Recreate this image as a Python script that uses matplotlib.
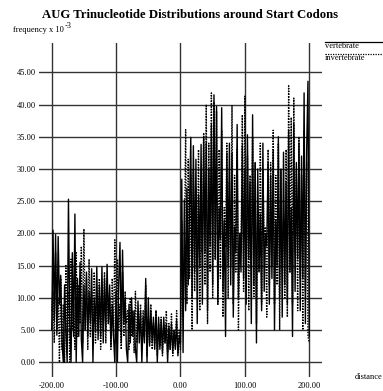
import numpy as np
import matplotlib.pyplot as plt

plt.switch_backend('agg')
plt.rcParams['font.family'] = ['Liberation Serif', 'DejaVu Serif']

# distance from start codon, step 2
distance = np.arange(-200, 201, 2)

vertebrate = [
    5.0, 20.5, 6.5, 19.8, 4.2, 19.5, 9.0, 13.5, 3.0, 0.0,
    12.0, 4.5, 0.0, 25.3, 6.0, 0.0, 17.0, 4.0, 23.0, 0.0,
    13.0, 4.0, 15.5, 3.5, 0.0, 12.0, 5.0, 14.0, 4.0, 11.0,
    6.0, 14.5, 0.0, 10.0, 5.0, 14.8, 3.5, 12.0, 4.0, 14.8,
    3.0, 13.0, 5.0, 15.2, 6.0, 12.0, 2.5, 9.0, 4.0, 0.0,
    11.0, 0.0, 12.0, 18.6, 3.0, 17.4, 6.0, 10.0, 2.0, 0.0,
    9.0, 3.0, 10.0, 4.0, 8.0, 2.0, 0.0, 9.5, 3.0, 8.0,
    0.0, 7.0, 3.0, 13.0, 0.0, 10.0, 2.5, 8.0, 3.0, 7.0,
    2.0, 8.0, 0.0, 7.0, 2.0, 6.5, 1.5, 7.0, 3.0, 6.0,
    0.0, 5.5, 2.0, 6.0, 1.5, 5.0, 2.0, 6.5, 1.0, 4.0,
    3.0, 28.4, 1.5, 25.2, 8.0, 27.0, 12.0, 24.0, 34.9, 10.0,
    33.6, 14.0, 31.5, 6.0, 26.0, 15.0, 33.8, 9.0, 35.0, 17.0,
    34.0, 8.0, 30.0, 18.0, 36.9, 12.0, 41.5, 16.0, 39.7, 9.0,
    24.0, 19.0, 39.5, 11.0, 22.0, 4.0, 32.5, 15.0, 34.0, 12.0,
    32.5, 7.0, 21.0, 17.0, 36.9, 10.0, 20.0, 14.0, 33.6, 13.0,
    30.0, 9.0, 35.3, 16.0, 28.0, 6.0, 38.4, 12.0, 31.0, 3.0,
    30.0, 14.0, 23.0, 8.0, 34.0, 11.0, 20.0, 18.0, 31.0, 9.0,
    29.0, 13.0, 33.0, 5.0, 22.0, 15.0, 35.0, 10.0, 30.0, 7.0,
    32.6, 12.0, 28.0, 9.0, 36.0, 14.0, 24.0, 4.0, 37.0, 11.0,
    31.0, 16.0, 34.0, 8.0, 32.0, 13.0, 41.8, 6.0, 33.0, 43.6,
    4.0,
]

invertebrate = [
    8.0, 11.0, 3.0, 17.0, 5.0, 10.0, 0.0, 13.0, 2.0, 9.0,
    0.0, 15.0, 3.0, 11.0, 0.0, 16.0, 5.0, 9.0, 2.0, 17.0,
    4.0, 12.0, 6.0, 18.0, 3.0, 20.7, 5.0, 13.0, 2.0, 16.0,
    4.0, 11.0, 6.0, 14.0, 3.0, 10.0, 5.0, 13.0, 2.0, 11.0,
    5.0, 14.0, 3.0, 12.0, 6.0, 10.0, 2.0, 13.0, 4.0, 19.0,
    3.0, 16.0, 5.0, 9.0, 2.0, 14.0, 4.0, 11.0, 6.0, 8.0,
    2.0, 10.0, 4.0, 8.0, 1.5, 11.0, 3.0, 7.0, 5.0, 9.0,
    2.0, 8.0, 4.0, 12.0, 1.0, 7.0, 3.0, 9.0, 2.0, 6.0,
    3.0, 8.0, 1.0, 6.0, 2.5, 7.0, 1.0, 5.0, 3.0, 8.0,
    1.5, 6.0, 2.0, 7.5, 1.0, 5.0, 2.5, 8.0, 1.5, 5.0,
    2.0, 22.0, 7.0, 18.0, 36.1, 9.0, 31.5, 13.0, 29.0, 5.0,
    30.0, 11.0, 27.0, 15.0, 33.0, 8.0, 22.0, 17.0, 35.6, 12.0,
    40.0, 6.0, 34.0, 14.0, 41.8, 10.0, 40.4, 16.0, 39.0, 9.0,
    33.0, 13.0, 36.0, 7.0, 24.0, 18.0, 34.0, 10.0, 28.0, 15.0,
    39.8, 9.0, 29.0, 14.0, 33.0, 5.0, 20.0, 17.0, 38.4, 11.0,
    41.3, 13.0, 32.0, 8.0, 29.0, 16.0, 35.0, 10.0, 31.0, 6.0,
    23.0, 14.0, 34.0, 9.0, 30.0, 18.0, 21.0, 7.0, 33.0, 12.0,
    31.0, 15.0, 36.0, 9.0, 29.0, 12.0, 34.0, 5.0, 30.0, 16.0,
    22.0, 10.0, 33.0, 7.0, 42.9, 14.0, 38.0, 9.0, 41.0, 17.0,
    30.0, 8.0, 35.0, 13.0, 29.0, 5.0, 36.0, 11.0, 31.0, 4.0,
    3.0,
]

xticks = [-200, -100, 0, 100, 200]
yticks = [0, 5, 10, 15, 20, 25, 30, 35, 40, 45]

fig = plt.figure(figsize=(3.83, 3.91), dpi=100)
ax = fig.add_axes([0.1026, 0.0366, 0.7373, 0.8527])
ax.set_xlim(-219.3, 219.3)
ax.set_ylim(-2.24, 49.5)

for y in yticks:
    ax.axhline(y, color='#333333', lw=1.0, zorder=1)
for x in xticks:
    ax.axvline(x, color='#333333', lw=1.0, zorder=1)

ax.plot(distance, invertebrate, color='black', lw=1.0, linestyle=(0, (1, 1)), zorder=2)
ax.plot(distance, vertebrate, color='black', lw=1.0, zorder=3)

for s in ax.spines.values():
    s.set_visible(False)
ax.set_xticks(xticks)
ax.set_xticklabels(['{:.2f}'.format(v) for v in xticks])
ax.set_yticks(yticks)
ax.set_yticklabels(['{:.2f}'.format(v) for v in yticks])
ax.tick_params(length=0, labelsize=6)
ax.tick_params(axis='y', pad=2.5)
ax.tick_params(axis='x', pad=4.0)

fig.text(0.497, 0.962, 'AUG Trinucleotide Distributions around Start Codons',
         ha='center', va='center', fontsize=9.2, fontweight='bold')
ylab = fig.text(13 / 383, 1 - 30 / 391, 'frequency x 10', ha='left', va='center', fontsize=6)
fig.canvas.draw()
bb = ylab.get_window_extent()
fig.text(bb.x1 / 383 + 0.002, 1 - 26.5 / 391, '-3', ha='left', va='center', fontsize=6)
fig.text(0.999, 0.036, 'distance', ha='right', va='center', fontsize=6)

# legend at the right, drawn by hand
fig.add_artist(plt.Line2D([325 / 383, 1.0], [1 - 41.5 / 391] * 2, color='black', lw=0.9))
fig.text(325 / 383, 1 - 46.5 / 391, 'vertebrate', ha='left', va='center', fontsize=6)
fig.add_artist(plt.Line2D([325 / 383, 1.0], [1 - 53.5 / 391] * 2, color='black', lw=0.9,
                          linestyle=(0, (1, 1))))
fig.text(325 / 383, 1 - 58.5 / 391, 'invertebrate', ha='left', va='center', fontsize=6)

fig.savefig('out.png', dpi=100)
